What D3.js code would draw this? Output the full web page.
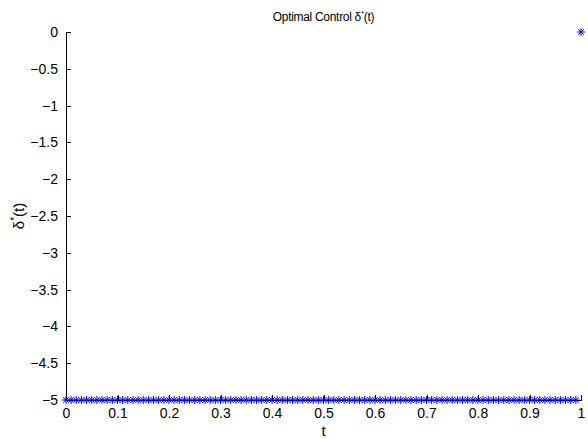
<!DOCTYPE html>
<html><head><meta charset="utf-8">
<script src="https://cdn.jsdelivr.net/npm/d3@7"></script>
<style>body{margin:0;background:#fff}svg{display:block}text{font-family:"Liberation Sans",Arial,Helvetica,sans-serif}</style>
</head><body>
<script>
const tValues = [0,0.01,0.02,0.03,0.04,0.05,0.06,0.07,0.08,0.09,
0.10,0.11,0.12,0.13,0.14,0.15,0.16,0.17,0.18,0.19,
0.20,0.21,0.22,0.23,0.24,0.25,0.26,0.27,0.28,0.29,
0.30,0.31,0.32,0.33,0.34,0.35,0.36,0.37,0.38,0.39,
0.40,0.41,0.42,0.43,0.44,0.45,0.46,0.47,0.48,0.49,
0.50,0.51,0.52,0.53,0.54,0.55,0.56,0.57,0.58,0.59,
0.60,0.61,0.62,0.63,0.64,0.65,0.66,0.67,0.68,0.69,
0.70,0.71,0.72,0.73,0.74,0.75,0.76,0.77,0.78,0.79,
0.80,0.81,0.82,0.83,0.84,0.85,0.86,0.87,0.88,0.89,
0.90,0.91,0.92,0.93,0.94,0.95,0.96,0.97,0.98,0.99,1.00];
const deltaValues = [-5,-5,-5,-5,-5,-5,-5,-5,-5,-5,
-5,-5,-5,-5,-5,-5,-5,-5,-5,-5,
-5,-5,-5,-5,-5,-5,-5,-5,-5,-5,
-5,-5,-5,-5,-5,-5,-5,-5,-5,-5,
-5,-5,-5,-5,-5,-5,-5,-5,-5,-5,
-5,-5,-5,-5,-5,-5,-5,-5,-5,-5,
-5,-5,-5,-5,-5,-5,-5,-5,-5,-5,
-5,-5,-5,-5,-5,-5,-5,-5,-5,-5,
-5,-5,-5,-5,-5,-5,-5,-5,-5,-5,
-5,-5,-5,-5,-5,-5,-5,-5,-5,-5,0];
const xTicks = [0,0.1,0.2,0.3,0.4,0.5,0.6,0.7,0.8,0.9,1];
const xTickLabels = ["0","0.1","0.2","0.3","0.4","0.5","0.6","0.7","0.8","0.9","1"];
const yTicks = [0,-0.5,-1,-1.5,-2,-2.5,-3,-3.5,-4,-4.5,-5];
const yTickLabels = ["0","\u22120.5","\u22121","\u22121.5","\u22122","\u22122.5","\u22123","\u22123.5","\u22124","\u22124.5","\u22125"];

const W=588,H=439;
const m={l:66,r:7,t:32,b:39};
const svg=d3.select("body").append("svg").attr("width",W).attr("height",H);
const x=d3.scaleLinear().domain([0,1]).range([m.l,W-m.r]);
const y=d3.scaleLinear().domain([-5,0]).range([H-m.b,m.t]);

const gx=svg.append("g").attr("transform",`translate(0,${H-m.b})`)
  .call(d3.axisBottom(x).tickValues(xTicks).tickFormat((d,i)=>xTickLabels[i]).tickSizeInner(-5).tickSizeOuter(0).tickPadding(8));
const gy=svg.append("g").attr("transform",`translate(${m.l},0)`)
  .call(d3.axisLeft(y).tickValues(yTicks).tickFormat((d,i)=>yTickLabels[i]).tickSizeInner(-5).tickSizeOuter(0).tickPadding(8));
[gx,gy].forEach(g=>{
  g.selectAll("path,line").attr("stroke","#000").attr("stroke-width",1).attr("shape-rendering","crispEdges");
  g.selectAll("text").attr("fill","#000").style("font-size","14px").style("font-family","'Liberation Sans',Arial,sans-serif");
});
gx.selectAll("text").attr("dy","0.71em");

// markers '*'
const s=4;
const mk=svg.append("g").attr("stroke","#0000ff").attr("stroke-width",1).attr("fill","none");
tValues.forEach((t,i)=>{
  const cx=x(t),cy=y(deltaValues[i]);
  const d=`M${cx-s},${cy}L${cx+s},${cy}M${cx},${cy-s}L${cx},${cy+s}`+
    `M${cx-s*0.7},${cy-s*0.7}L${cx+s*0.7},${cy+s*0.7}M${cx-s*0.7},${cy+s*0.7}L${cx+s*0.7},${cy-s*0.7}`;
  mk.append("path").attr("d",d);
});

svg.append("text").attr("x",(m.l+W-m.r)/2).attr("y",21).attr("text-anchor","middle")
  .style("font-size","12px").style("letter-spacing","-0.3px")
  .html('Optimal Control \u03b4<tspan dy="-5" font-size="8px">*</tspan><tspan dy="5">(t)</tspan>');
svg.append("text").attr("x",(m.l+W-m.r)/2).attr("y",436).attr("text-anchor","middle")
  .style("font-size","15px").text("t");
svg.append("text").attr("transform",`translate(24,${(m.t+H-m.b)/2}) rotate(-90)`).attr("text-anchor","middle")
  .style("font-size","15px")
  .html('\u03b4<tspan dy="-6" font-size="10px">*</tspan><tspan dy="6">(t)</tspan>');
</script>
</body></html>
